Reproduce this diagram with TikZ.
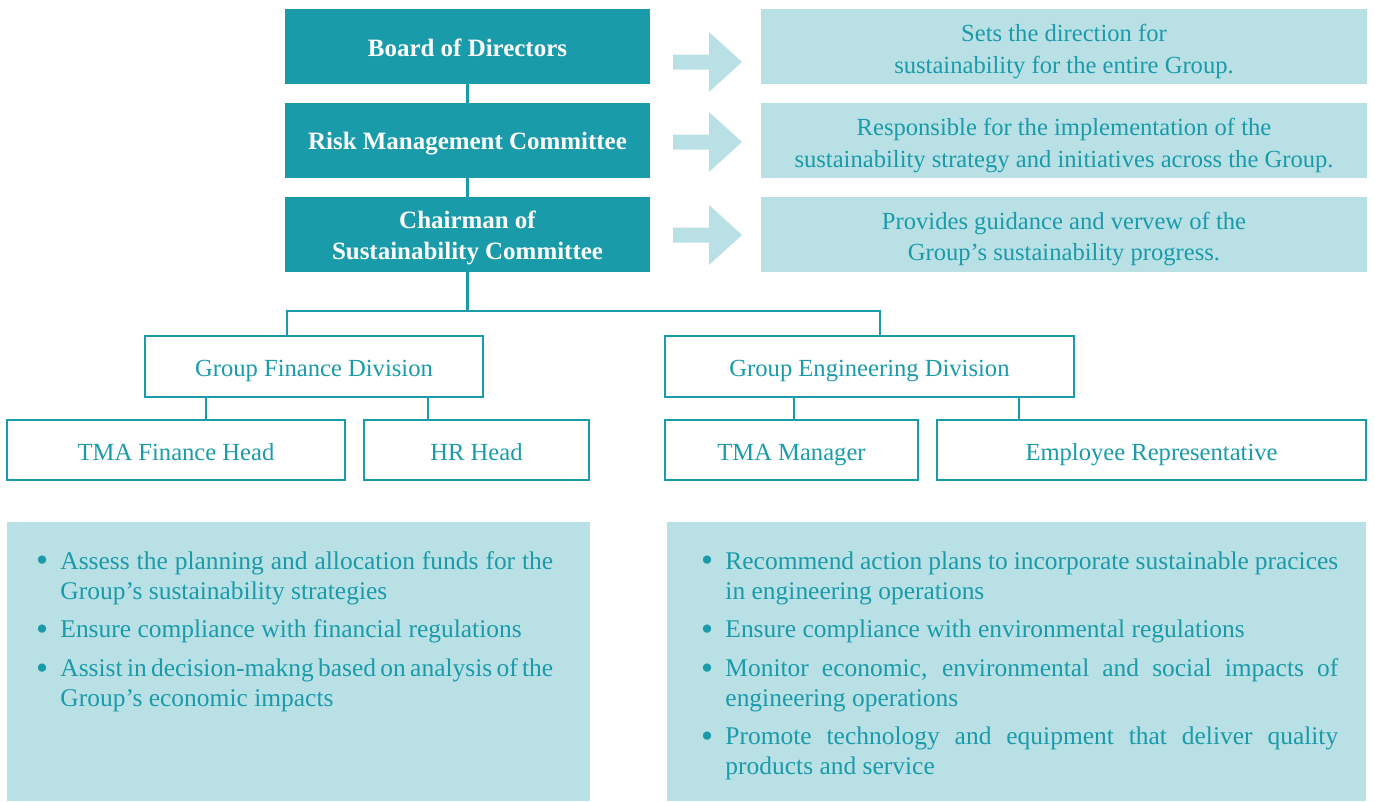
\documentclass[tikz,border=0pt]{standalone}
\usepackage{fontspec}
\setmainfont{Liberation Serif}
\usepackage{enumitem}
\usetikzlibrary{positioning}
\definecolor{tealdark}{HTML}{1A9BAA}
\definecolor{teallight}{HTML}{B9E0E5}
\hyphenpenalty=10000
\exhyphenpenalty=10000

\begin{document}
\begin{tikzpicture}[x=0.02cm,y=-0.02cm,
  darkbox/.style={fill=tealdark,text=white,font=\fontsize{14.2}{18}\selectfont\bfseries,
    minimum width=7.3cm,minimum height=1.5cm,inner sep=0pt,align=center,
    text height=14.4pt,text depth=2.5pt},
  notebox/.style={fill=teallight,minimum width=12.12cm,minimum height=1.5cm,inner sep=0pt},
  notetext/.style={text=tealdark,font=\fontsize{14}{18}\selectfont,inner sep=0pt,align=center},
  unitbox/.style={draw=tealdark,line width=1.6pt,text=tealdark,font=\fontsize{14}{17}\selectfont,
    minimum height=1.2cm,inner sep=0pt,text height=14.4pt,text depth=2.5pt},
  listbox/.style={fill=teallight,minimum height=5.58cm,inner sep=0pt},
  listtext/.style={anchor=north west,inner sep=0pt,text=tealdark,align=justify,
    font=\fontsize{14.5}{17}\selectfont},
  link/.style={draw=tealdark,line width=1.6pt}]
\useasboundingbox (0,0) rectangle (1375,801);

% governance levels
\node[darkbox] (board) at (467.5,46.5) {Board of Directors};
\node[darkbox,text height=,text depth=] (risk) at (467.5,140.5) {};
\node[notetext,text=white,font=\fontsize{14.2}{18}\selectfont\bfseries] (risktitle)
  at ([yshift=-1.7pt]risk.center) {Risk Management Committee};
\node[darkbox,text height=,text depth=] (chair) at (467.5,234.5) {};
\node[notetext,text=white,font=\fontsize{14.2}{18}\selectfont\bfseries] (chairtext)
  at ([yshift=-2pt]chair.center) {Chairman of\\Sustainability Committee};

\node[notebox] (boardrole) at (1064,46.5) {};
\node[notebox] (riskrole) at (1064,140.5) {};
\node[notebox] (chairrole) at (1064,234.5) {};
\node[notetext] (boardtext) at ([yshift=-2.8pt]boardrole.center)
  {Sets the direction for\\sustainability for the entire Group.};
\node[notetext] (risktext) at ([yshift=-2.8pt]riskrole.center)
  {Responsible for the implementation of the\\sustainability strategy and initiatives across the Group.};
\node[notetext] (chairroletext) at ([yshift=-2.5pt]chairrole.center)
  {Provides guidance and vervew of the\\Group's sustainability progress.};

\foreach \y in {62,142,235}
  \fill[teallight] (673,{\y-7.5}) -- (709,{\y-7.5}) -- (709,{\y-30}) -- (742,\y)
    -- (709,{\y+30}) -- (709,{\y+7.5}) -- (673,{\y+7.5}) -- cycle;

\draw[link] (board.south) -- (risk.north);
\draw[link] (risk.south) -- (chair.north);

% divisions
\node[unitbox,minimum width=6.76cm,minimum height=1.22cm] (fin) at (314,366.5) {Group Finance Division};
\node[unitbox,minimum width=8.18cm,minimum height=1.22cm] (eng) at (869.5,366.5) {Group Engineering Division};

\coordinate (bus) at (467.5,311);
\coordinate (finjoin) at (287,311);
\coordinate (engjoin) at (880,311);
\draw[link] (chair.south) -- (bus);
\draw[link] (fin.north -| finjoin) |- (engjoin) -- (eng.north -| engjoin);

\node[unitbox,minimum width=6.76cm] (tmafin) at (176,450) {TMA Finance Head};
\node[unitbox,minimum width=4.5cm] (hr) at (476.5,450) {HR Head};
\node[unitbox,minimum width=5.06cm] (tmamgr) at (791.5,450) {TMA Manager};
\node[unitbox,minimum width=8.58cm] (emprep) at (1151.5,450) {Employee Representative};

\coordinate (c1) at (206,0);
\coordinate (c2) at (428,0);
\coordinate (c3) at (794,0);
\coordinate (c4) at (1019,0);
\draw[link] (fin.south -| c1) -- (tmafin.north -| c1);
\draw[link] (fin.south -| c2) -- (hr.north -| c2);
\draw[link] (eng.south -| c3) -- (tmamgr.north -| c3);
\draw[link] (eng.south -| c4) -- (emprep.north -| c4);

% duties
\node[listbox,minimum width=11.66cm] (finduty) at (298.5,661.5) {};
\node[listbox,minimum width=13.98cm] (engduty) at (1016.5,661.5) {};

\node[listtext,text width=10.28cm] (finlist) at (39,539) {%
\begin{itemize}[label=\raisebox{-1.5pt}{\scalebox{1.35}{\textbullet}},leftmargin=12pt,labelsep=7pt,itemsep=5pt,topsep=0pt,parsep=0pt,partopsep=0pt]
\item Assess the planning and allocation funds for the Group's sustainability strategies
\item Ensure compliance with financial regulations
\item Assist in decision-makng based on analysis of the Group's economic impacts
\end{itemize}};
\node[listtext,text width=12.68cm] (englist) at (704,539) {%
\begin{itemize}[label=\raisebox{-1.5pt}{\scalebox{1.35}{\textbullet}},leftmargin=12pt,labelsep=7pt,itemsep=5pt,topsep=0pt,parsep=0pt,partopsep=0pt]
\item Recommend action plans to incorporate sustainable pracices in engineering operations
\item Ensure compliance with environmental regulations
\item Monitor economic, environmental and social impacts of engineering operations
\item Promote technology and equipment that deliver quality products and service
\end{itemize}};
\end{tikzpicture}
\end{document}
